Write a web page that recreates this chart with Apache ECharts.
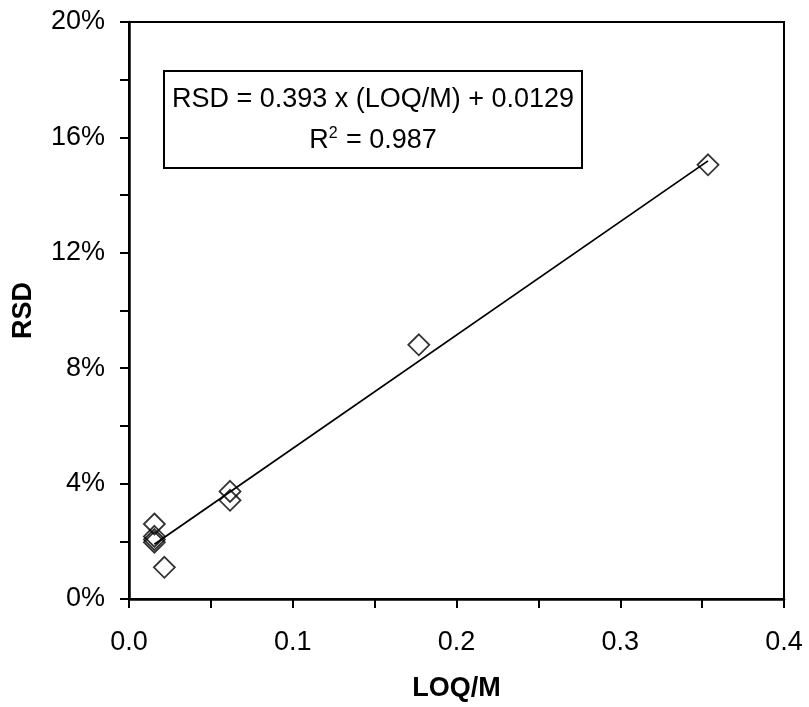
<!DOCTYPE html>
<html>
<head>
<meta charset="utf-8">
<script src="https://cdn.jsdelivr.net/npm/echarts@6/dist/echarts.min.js"></script>
<style>html,body{margin:0;padding:0;background:#fff}#c{width:809px;height:707px}</style>
</head>
<body>
<div id="c"></div>
<script>
// Data
const loqM = [0.0155, 0.0155, 0.0155, 0.0155, 0.0216, 0.0617, 0.0617, 0.177, 0.3536];
const rsd  = [0.026, 0.0217, 0.0206, 0.0197, 0.011, 0.0373, 0.0342, 0.0881, 0.1505];
const slope = 0.393;
const intercept = 0.0129;
const r2 = 0.987;
const xTickLabels = ['0.0', '0.1', '0.2', '0.3', '0.4'];
const yTickLabels = ['0%', '4%', '8%', '12%', '16%', '20%'];

const pts = loqM.map((x, i) => [x, rsd[i]]);
const xMin = Math.min(...loqM), xMax = Math.max(...loqM);
const trend = [[xMin, slope * xMin + intercept], [xMax, slope * xMax + intercept]];

const FONT = '"Liberation Sans", Arial, sans-serif';
const FS = 27;
const EQ_FS = 27;
const line1 = 'RSD = ' + slope + ' x (LOQ/M) + ' + intercept;
const cv = document.createElement('canvas').getContext('2d');
cv.font = EQ_FS + 'px ' + FONT;
const boxW = Math.round(cv.measureText(line1).width + 16);

const chart = echarts.init(document.getElementById('c'), null, {renderer: 'canvas'});
chart.setOption({
  backgroundColor: '#fff',
  animation: false,
  grid: {left: 129, right: 25, top: 22, bottom: 108, show: true, borderColor: '#000', borderWidth: 2, backgroundColor: 'transparent'},
  xAxis: {
    type: 'value', min: 0, max: 0.4, interval: 0.05,
    name: 'LOQ/M', nameLocation: 'middle', nameGap: 76,
    nameTextStyle: {fontFamily: FONT, fontSize: FS, fontWeight: 'bold', color: '#000'},
    axisLine: {show: true, onZero: false, lineStyle: {color: '#000', width: 2.5}},
    axisTick: {show: true, length: 9, lineStyle: {color: '#000', width: 2}},
    splitLine: {show: false},
    axisLabel: {
      margin: 30, fontFamily: FONT, fontSize: FS, color: '#000',
      formatter: v => { const k = Math.round(v * 100); return k % 10 === 0 ? xTickLabels[k / 10] : ''; }
    }
  },
  yAxis: {
    type: 'value', min: 0, max: 0.2, interval: 0.02,
    name: 'RSD', nameLocation: 'middle', nameGap: 92,
    nameTextStyle: {fontFamily: FONT, fontSize: FS, fontWeight: 'bold', color: '#000'},
    axisLine: {show: true, onZero: false, lineStyle: {color: '#000', width: 2.5}},
    axisTick: {show: true, length: 9, lineStyle: {color: '#000', width: 2}},
    splitLine: {show: false},
    axisLabel: {
      margin: 24, fontFamily: FONT, fontSize: FS, color: '#000',
      formatter: v => { const k = Math.round(v * 100); return k % 4 === 0 ? yTickLabels[k / 4] : ''; }
    }
  },
  series: [
    {
      type: 'scatter', data: pts, symbol: 'diamond', symbolSize: 21,
      itemStyle: {color: 'rgba(0,0,0,0)', borderColor: '#000', borderWidth: 1.8},
      z: 2
    },
    {
      type: 'line', data: trend, symbol: 'none',
      lineStyle: {color: '#000', width: 1.8}, z: 3
    }
  ],
  graphic: [
    {
      type: 'group', left: 163, top: 70,
      children: [
        {type: 'rect', shape: {x: 0, y: 0, width: boxW, height: 97}, style: {fill: '#fff', stroke: '#000', lineWidth: 2}},
        {type: 'text', x: boxW / 2, y: 29, style: {text: line1, fontFamily: FONT, fontSize: EQ_FS, fill: '#000', align: 'center', verticalAlign: 'middle'}},
        {type: 'text', x: boxW / 2, y: 70, style: {text: 'R{sup|2} = ' + r2, fontFamily: FONT, fontSize: EQ_FS, fill: '#000', align: 'center', verticalAlign: 'middle',
          rich: {sup: {fontFamily: FONT, fontSize: 16, verticalAlign: 'top', padding: [0, 1, 14, 0]}}}}
      ]
    }
  ]
});
</script>
</body>
</html>
